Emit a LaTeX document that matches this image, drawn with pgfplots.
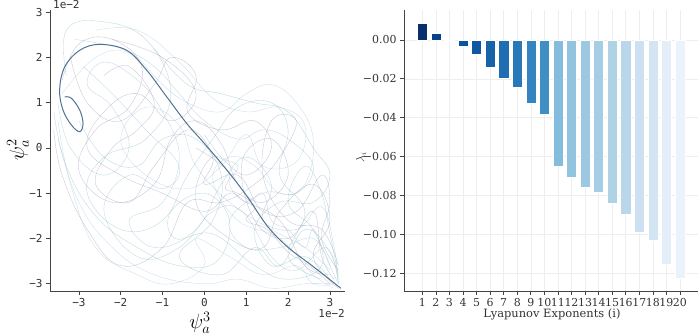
\documentclass[border=0pt]{standalone}
\usepackage{fontspec}
\setmainfont{DejaVu Serif}
\newfontfamily\monofont{DejaVu Sans Mono}
\usepackage{pgfplots}
\pgfplotsset{compat=1.18}

\definecolor{spine}{HTML}{444444}
\definecolor{ticktxt}{HTML}{333333}
\definecolor{gridc}{HTML}{EEEEEE}
\definecolor{mainc}{HTML}{4F7393}
\definecolor{tA}{HTML}{8FB8C8}
\definecolor{tB}{HTML}{9A93B5}
\definecolor{tC}{HTML}{7FB8B5}
\definecolor{tD}{HTML}{A3C0DA}
% Blues, one per exponent
\definecolor{b1}{HTML}{08306B}
\definecolor{b2}{HTML}{084387}
\definecolor{b3}{HTML}{08519C}
\definecolor{b4}{HTML}{0A539E}
\definecolor{b5}{HTML}{0D58A1}
\definecolor{b6}{HTML}{1763AA}
\definecolor{b7}{HTML}{1F6EB3}
\definecolor{b8}{HTML}{2979B9}
\definecolor{b9}{HTML}{3484BF}
\definecolor{b10}{HTML}{3F8FC5}
\definecolor{b11}{HTML}{85BCDB}
\definecolor{b12}{HTML}{93C4DF}
\definecolor{b13}{HTML}{9CC9E1}
\definecolor{b14}{HTML}{A5CDE3}
\definecolor{b15}{HTML}{B0D2E7}
\definecolor{b16}{HTML}{BAD6EB}
\definecolor{b17}{HTML}{CDE0F1}
\definecolor{b18}{HTML}{D3E4F3}
\definecolor{b19}{HTML}{E3EEF9}
\definecolor{b20}{HTML}{EAF3FB}

\pgfplotsset{panel/.style={scale only axis, axis lines=left, axis line style={-, spine, line width=0.8pt},
  tick align=outside, major tick length=4bp, tick style={spine, line width=0.7pt},
  tick label style={text=ticktxt}, /pgf/number format/assume math mode=true},
  traj/.style={smooth, tension=0.7, line width=0.35pt, opacity=0.55},
  lyap/.style={ybar, bar width=0.75, bar shift=0pt, draw=white, line width=0.4pt}}

\begin{document}
\begin{tikzpicture}
\useasboundingbox (0bp,0bp) rectangle (700bp,336bp);

\begin{axis}[panel, name=phase, at={(50bp,45bp)}, anchor=south west, width=295bp, height=281bp,
  xmin=-3.69, xmax=3.36, ymin=-3.16, ymax=3.05,
  xtick={-3,-2,-1,0,1,2,3}, xticklabels={−3,−2,−1,0,1,2,3},
  ytick={-3,-2,-1,0,1,2,3}, yticklabels={−3,−2,−1,0,1,2,3},
  tick label style={font=\monofont\fontsize{11}{12}\selectfont}]
\addplot[traj, tB] coordinates {(-3.4,1.5) (-3.0,2.3) (-2.2,2.4) (-1.5,1.8) (-1.8,0.9) (-2.6,0.4) (-3.0,-0.5) (-2.2,-1.2) (-1.2,-0.8) (-0.8,0.2) (-0.2,0.6) (0.4,0.1) (0.8,-0.8) (1.4,-1.2) (2.0,-0.6) (1.6,0.2) (0.9,-0.3) (1.2,-1.6) (2.0,-2.0) (2.6,-1.4) (2.8,-2.4) (3.1,-2.9)};
\addplot[traj, tC] coordinates {(-3.6,0.8) (-3.3,-0.4) (-2.6,-1.5) (-1.6,-2.2) (-0.6,-2.6) (0.3,-2.5) (0.6,-1.6) (0.0,-1.0) (-0.8,-1.4) (-0.7,-2.0) (0.2,-1.9) (1.2,-2.6) (2.0,-2.9) (2.8,-2.6) (2.6,-1.8) (2.0,-1.2) (2.4,-0.4) (2.8,-1.0) (3.0,-1.9) (3.2,-2.8)};
\addplot[traj, tD] coordinates {(-2.6,2.6) (-1.6,2.6) (-0.6,1.9) (0.2,1.1) (1.0,0.8) (1.8,0.9) (2.4,0.5) (2.2,-0.3) (1.4,-0.4) (1.0,0.3) (0.4,-0.4) (-0.4,-0.9) (-1.4,-0.6) (-2.0,0.2) (-1.4,0.9) (-0.6,0.5) (-0.2,-0.4) (0.6,-1.2) (1.6,-1.8) (2.4,-2.2) (3.0,-2.7)};
\addplot[traj, tA] coordinates {(-3.5,1.0) (-3.2,0.0) (-2.4,-0.6) (-1.8,0.0) (-2.2,0.9) (-2.8,1.4) (-2.4,1.9) (-1.6,1.5) (-1.0,0.8) (-0.6,-0.2) (-1.0,-1.2) (-1.8,-1.6) (-1.2,-2.2) (-0.2,-1.8) (0.4,-0.8) (1.0,-0.2) (1.6,-0.8) (1.4,-1.6) (2.2,-1.8) (2.8,-1.3) (3.1,-2.2) (3.2,-3.0)};
\addplot[traj, tB] coordinates {(-3.2,2.0) (-2.8,1.0) (-2.0,0.6) (-1.2,1.4) (-0.8,2.0) (-0.2,1.6) (-0.4,0.8) (0.4,0.4) (1.2,0.6) (1.6,0.0) (1.0,-0.6) (0.2,-0.2) (-0.2,-1.2) (0.6,-2.0) (1.4,-2.2) (1.8,-1.4) (2.6,-0.8) (3.0,-1.6) (2.6,-2.4) (3.2,-3.1)};
\addplot[traj, tD] coordinates {(-3.5,0.2) (-3.0,-1.2) (-2.2,-2.2) (-1.2,-2.8) (0.0,-3.0) (0.8,-2.9) (1.6,-3.1) (2.4,-3.0) (3.0,-3.0)};
\addplot[traj, tC] coordinates {(-3.3,1.6) (-3.3,2.6) (-2.5,2.8) (-1.4,2.4) (-0.8,1.2) (-1.4,0.2) (-2.4,-0.2) (-2.8,-1.0) (-2.0,-1.8) (-1.0,-1.6) (-0.4,-0.6) (0.2,0.2) (0.8,0.9) (1.6,1.0) (2.0,0.4) (1.8,-0.6) (2.4,-1.4) (2.0,-2.4) (2.8,-2.9)};
\addplot[traj, tB] coordinates {(-0.2,0.0) (0.3,-0.3) (0.6,-0.6) (0.5,-0.9) (0.8,-1.0) (1.2,-1.3) (1.0,-1.6) (1.5,-1.8) (2.0,-2.3) (2.5,-2.6) (3.0,-3.0)};
\addplot[traj, tA] coordinates {(-2.9,1.8) (-2.2,1.2) (-1.4,0.4) (-0.6,-0.4) (-1.0,-0.9) (-1.8,-0.6) (-2.4,-1.4) (-1.6,-2.4) (-0.6,-2.2) (0.2,-1.4) (0.9,-1.4) (1.6,-2.4) (2.2,-2.7) (2.9,-2.2) (3.2,-2.9)};
\addplot[traj, tD] coordinates {(-3.4,1.2) (-2.6,2.0) (-1.8,2.1) (-1.0,1.4) (-0.4,1.0) (0.4,0.8) (1.0,1.2) (1.6,1.4) (2.2,1.0) (2.6,0.2) (2.4,-0.8) (1.8,-1.0) (1.2,-0.4) (0.6,-0.2) (0.2,-0.7) (0.8,-1.6) (1.8,-2.0) (2.6,-2.8) (3.1,-3.1)};
\addplot[traj, tC] coordinates {(-3.0,0.6) (-2.4,-0.2) (-1.6,-0.4) (-1.0,0.2) (-0.2,0.2) (0.4,-0.6) (0.2,-1.6) (-0.6,-2.4) (0.4,-2.8) (1.2,-2.2) (1.8,-2.6) (2.4,-1.8) (3.0,-2.3) (3.2,-3.0)};
\addplot[traj, tB] coordinates {(-3.6,0.4) (-3.4,-0.6) (-2.8,-1.8) (-2.0,-2.6) (-1.0,-2.2) (-0.4,-1.2) (0.4,-1.2) (1.2,-0.8) (1.8,-0.2) (2.2,0.6) (1.6,0.6) (1.4,-0.6) (2.0,-1.6) (2.8,-1.8) (3.2,-2.6)};
\addplot[traj, tA] coordinates {(-3.1,2.4) (-2.0,2.2) (-1.2,1.8) (-0.6,1.2) (0.0,0.6) (0.8,0.2) (1.4,0.4) (2.0,0.2) (2.6,-0.4) (2.2,-1.0) (1.4,-1.0) (0.6,-1.6) (1.0,-2.2) (1.8,-2.2) (2.6,-2.0) (3.0,-2.6)};
\addplot[traj, tB] coordinates {(-2.4,1.6) (-1.8,1.8) (-1.2,1.0) (-1.6,0.4) (-2.2,0.0) (-2.6,-0.8) (-1.8,-1.2) (-1.2,-0.4) (-0.4,0.4) (0.2,-0.2) (0.0,-0.8) (0.8,-0.6) (1.4,-1.4) (2.2,-1.4) (2.8,-0.6) (3.0,-1.2) (2.8,-2.0) (3.2,-2.7)};
\addplot[traj, tD] coordinates {(-3.5,0.6) (-3.2,-0.8) (-2.6,-2.2) (-1.6,-2.8) (-0.8,-3.0) (0.0,-2.6) (-0.2,-2.0) (0.6,-2.4) (1.4,-2.8) (2.2,-2.6) (2.6,-3.0) (3.1,-3.0)};
\addplot[traj, tC] coordinates {(-1.2,2.2) (-0.4,1.4) (0.4,1.2) (1.2,1.0) (2.0,0.8) (2.6,0.0) (3.0,-0.6) (2.6,-1.2) (1.8,-1.2) (1.2,-1.8) (1.6,-2.6) (2.4,-2.4) (3.0,-2.9)};
\addplot[traj, tB] coordinates {(-2.2,2.4) (-1.0,2.0) (-0.2,1.2) (-0.8,0.6) (-1.6,1.2) (-2.4,0.8) (-2.8,0.0) (-2.0,-0.6) (-1.0,-1.0) (0.0,-1.4) (0.6,-1.0) (1.0,-1.2) (1.8,-1.6) (2.4,-2.6) (3.0,-2.8)};
\addplot[traj, tA] coordinates {(0.0,0.3) (0.4,-0.2) (0.8,-0.4) (0.6,-0.8) (1.0,-1.2) (1.4,-1.0) (1.6,-1.6) (2.0,-1.8) (2.4,-2.2) (2.6,-1.8) (2.9,-2.4) (3.2,-3.0)};
% main orbit
\addplot[smooth, tension=0.6, mainc, line width=1pt] coordinates {(3.26,-3.1) (2.6,-2.62) (1.98,-2.18) (1.5,-1.72) (1.02,-1.07) (0.54,-0.49) (0,0.1) (-0.42,0.54) (-0.9,1.13) (-1.38,1.72) (-1.86,2.16) (-2.5,2.29) (-2.98,2.16) (-3.34,1.79) (-3.46,1.28) (-3.38,0.84) (-3.18,0.51) (-2.98,0.36) (-2.9,0.54) (-2.98,0.84) (-3.18,1.1) (-3.34,1.13)};
\end{axis}
\node[anchor=south west, font=\monofont\fontsize{11}{12}\selectfont, text=ticktxt, inner sep=0pt] at ([xshift=3bp, yshift=1bp]phase.north west) {1e−2};
\node[anchor=north east, font=\monofont\fontsize{11}{12}\selectfont, text=ticktxt, inner sep=0pt] at ([yshift=-18bp]phase.south east) {1e−2};
\node[font=\fontsize{21}{23}\selectfont, inner sep=0pt] at (200bp,13bp) {$\psi_a^3$};
\node[font=\fontsize{21}{23}\selectfont, rotate=90, inner sep=0pt] at (18bp,186bp) {$\psi_a^2$};

\begin{axis}[panel, name=lyap, at={(404bp,45bp)}, anchor=south west, width=294bp, height=281bp,
  xmin=-0.35, xmax=21.33, ymin=-0.1291, ymax=0.0154,
  xtick={1,...,20}, ytick={-0.12,-0.10,-0.08,-0.06,-0.04,-0.02,0},
  yticklabels={−0.12,−0.10,−0.08,−0.06,−0.04,−0.02,0.00},
  grid=major, grid style={gridc, line width=0.5pt},
  tick label style={font=\fontsize{11}{12}\selectfont}]
\addplot[lyap, fill=b1] coordinates {(1,0.0086)};
\addplot[lyap, fill=b2] coordinates {(2,0.0034)};
\addplot[lyap, fill=b3] coordinates {(3,-0.0002)};
\addplot[lyap, fill=b4] coordinates {(4,-0.0034)};
\addplot[lyap, fill=b5] coordinates {(5,-0.0074)};
\addplot[lyap, fill=b6] coordinates {(6,-0.0141)};
\addplot[lyap, fill=b7] coordinates {(7,-0.0195)};
\addplot[lyap, fill=b8] coordinates {(8,-0.0242)};
\addplot[lyap, fill=b9] coordinates {(9,-0.0326)};
\addplot[lyap, fill=b10] coordinates {(10,-0.0384)};
\addplot[lyap, fill=b11] coordinates {(11,-0.0648)};
\addplot[lyap, fill=b12] coordinates {(12,-0.0706)};
\addplot[lyap, fill=b13] coordinates {(13,-0.0758)};
\addplot[lyap, fill=b14] coordinates {(14,-0.0784)};
\addplot[lyap, fill=b15] coordinates {(15,-0.0840)};
\addplot[lyap, fill=b16] coordinates {(16,-0.0894)};
\addplot[lyap, fill=b17] coordinates {(17,-0.0991)};
\addplot[lyap, fill=b18] coordinates {(18,-0.1029)};
\addplot[lyap, fill=b19] coordinates {(19,-0.1151)};
\addplot[lyap, fill=b20] coordinates {(20,-0.1223)};
\end{axis}
\node[font=\fontsize{11.5}{13}\selectfont, text=ticktxt] at (552bp,22bp) {Lyapunov Exponents (i)};
\node[font=\fontsize{12}{13}\selectfont, text=ticktxt, rotate=90] at (361bp,179bp) {$\lambda_i$};
\end{tikzpicture}
\end{document}
